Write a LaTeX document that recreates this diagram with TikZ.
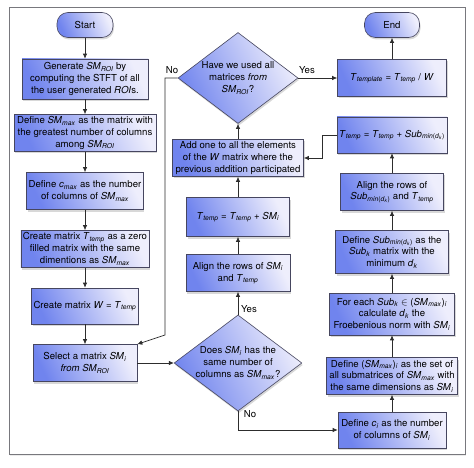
\documentclass[tikz,border=0pt]{standalone}
\usepackage{fontspec}
\setmainfont{TeX Gyre Heros}
\usetikzlibrary{shapes.geometric,shadows,arrows.meta}
\newcommand{\vs}[2]{\textit{#1}\textsubscript{\textit{#2}}}
\newcommand{\submin}{\textit{Sub}\textsubscript{\textit{min}(\textit{d}\textsubscript{\textit{k}})}}
\newcommand{\fs}{\fontsize{9.6}{11.8}\selectfont}
\definecolor{bluedark}{RGB}{112,132,238}
\definecolor{bluelight}{RGB}{238,238,252}
\definecolor{boxline}{RGB}{70,70,95}
\definecolor{linec}{RGB}{45,45,45}
\definecolor{framec}{RGB}{120,120,125}
\begin{document}
\begin{tikzpicture}[x=1pt,y=-1pt,
  shadowed/.style={drop shadow={shadow xshift=1pt,shadow yshift=-2pt,opacity=0.3}},
  box/.style={draw=boxline, line width=0.6pt, top color=bluedark, bottom color=bluelight,
    shading angle=115, shadowed, align=center, inner sep=2pt, font=\fs},
  term/.style={box, rounded corners=11pt},
  dia/.style={box, diamond, inner sep=0pt, aspect=1.33},
  arr/.style={draw=linec, line width=0.7pt, -{Latex[length=5pt,width=4.5pt]}},
  lbl/.style={font=\fs, inner sep=1pt}]
\useasboundingbox (0,0) rectangle (474,468);
\fill[white] (0,0) rectangle (474,468);
\draw[framec, line width=0.8pt, fill=white, drop shadow={shadow xshift=1pt,shadow yshift=-2pt,opacity=0.15}] (9,7) rectangle (465,454);

% left column
\node[term, minimum width=56pt, minimum height=25pt] (start) at (85,25) {Start};
\node[box, minimum width=126pt, minimum height=40pt] (gen) at (85,79)
  {Generate \vs{SM}{ROI} by\\computing the STFT of all\\the user generated \textit{ROI}s.};
\node[box, minimum width=142pt, minimum height=37pt] (defmax) at (85,133)
  {Define \vs{SM}{max} as the matrix with\\the greatest number of columns\\among \vs{SM}{ROI}};
\node[box, minimum width=116pt, minimum height=37pt] (defc) at (85,191)
  {Define \vs{c}{max} as the number\\of columns of \vs{SM}{max}};
\node[box, minimum width=125pt, minimum height=37pt] (crt) at (85,249)
  {Create matrix \vs{T}{temp} as a zero\\filled matrix with the same\\dimentions as \vs{SM}{max}};
\node[box, minimum width=106pt, minimum height=36pt] (crw) at (85,306)
  {Create matrix \textit{W} = \vs{T}{temp}};
\node[box, minimum width=104pt, minimum height=37pt] (sel) at (85,363)
  {Select a matrix \vs{SM}{i}\\\textit{from} \vs{SM}{ROI}};

% middle column
\node[dia, minimum width=120pt, minimum height=91pt] (used) at (238,78)
  {Have we used all\\matrices \textit{from}\\\vs{SM}{ROI}?};
\node[box, minimum width=131pt, minimum height=37pt] (addone) at (238,158)
  {Add one to all the elements\\of the \textit{W} matrix where the\\previous addition participated};
\node[box, minimum width=103pt, minimum height=39pt] (tsum) at (238,217)
  {\vs{T}{temp} = \vs{T}{temp} + \vs{SM}{i}};
\node[box, minimum width=104pt, minimum height=37pt] (alignsm) at (238,273)
  {Align the rows of \vs{SM}{i}\\and \vs{T}{temp}};
\node[dia, minimum width=120pt, minimum height=88pt] (does) at (238,363)
  {Does \vs{SM}{i} has the\\same number of\\columns as \vs{SM}{max}?};

% right column
\node[term, minimum width=55pt, minimum height=25pt] (endn) at (392,25) {End};
\node[box, minimum width=109pt, minimum height=37pt] (ttpl) at (392,78)
  {\vs{T}{template} = \vs{T}{temp} / \textit{W}};
\node[box, minimum width=109pt, minimum height=36pt] (tsub) at (392,135)
  {\vs{T}{temp} = \vs{T}{temp} + \submin};
\node[box, minimum width=103pt, minimum height=37pt] (alsub) at (392,192)
  {Align the rows of\\\submin{} and \vs{T}{temp}};
\node[box, minimum width=113pt, minimum height=43pt] (defsub) at (392,252)
  {Define \submin{} as the\\\vs{Sub}{k} matrix with the\\minimum \vs{d}{k}};
\node[box, minimum width=125pt, minimum height=42pt] (foreach) at (392,314)
  {For each \vs{Sub}{k} $\in$ (\vs{SM}{max})\textsubscript{\textit{i}}\\calculate \vs{d}{k} the\\Froebenious norm with \vs{SM}{i}};
\node[box, minimum width=131pt, minimum height=37pt] (defset) at (392,376)
  {Define (\vs{SM}{max})\textsubscript{\textit{i}} as the set of\\all submatrices of \vs{SM}{max} with\\the same dimensions as \vs{SM}{i}};
\node[box, minimum width=108pt, minimum height=36pt] (defci) at (392,430)
  {Define \vs{c}{i} as the number\\of columns of \vs{SM}{i}};

% connectors left
\draw[arr] (start) -- (gen);
\draw[arr] (gen) -- (defmax);
\draw[arr] (defmax) -- (defc);
\draw[arr] (defc) -- (crt);
\draw[arr] (crt) -- (crw);
\draw[arr] (crw) -- (sel);
\draw[arr] (sel.east) -- (does.west);

% top diamond
\coordinate (nobend) at (165,335);
\draw[arr] (used.west) -| (nobend) -- (sel.north east);
\node[lbl] (nolbl1) at (172,70) {No};
\draw[arr] (used.east) -- (ttpl.west);
\node[lbl] (yeslbl1) at (307,70) {Yes};
\draw[arr] (ttpl) -- (endn);

% middle column up
\draw[arr] (addone) -- (used);
\draw[arr] (tsum) -- (addone);
\draw[arr] (alignsm) -- (tsum);
\draw[arr] (does) -- (alignsm);
\node[lbl] (yeslbl2) at (249,309) {Yes};
\draw[arr] (does.south) |- (defci.west);
\node[lbl] (nolbl2) at (250,414) {No};

% right column up
\draw[arr] (defci) -- (defset);
\draw[arr] (defset) -- (foreach);
\draw[arr] (foreach) -- (defsub);
\draw[arr] (defsub) -- (alsub);
\draw[arr] (alsub) -- (tsub);
\coordinate (tsbend) at (322,135);
\draw[arr] (tsub.west) -- (tsbend) |- (addone.east);
\end{tikzpicture}
\end{document}
